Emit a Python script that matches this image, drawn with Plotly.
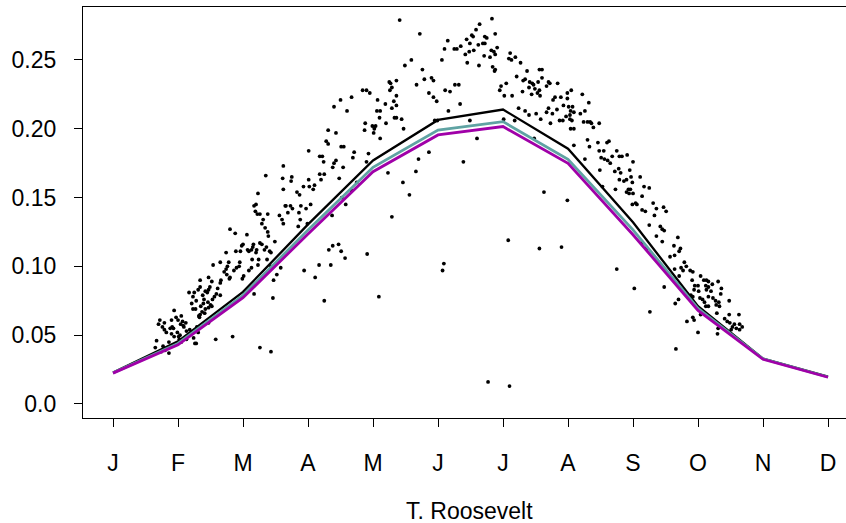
import plotly.graph_objects as go

months = ["J", "F", "M", "A", "M", "J", "J", "A", "S", "O", "N", "D"]
month_pos = list(range(1, 13))
y_ticks = [0.0, 0.05, 0.10, 0.15, 0.20, 0.25]
y_tick_text = ["0.0", "0.05", "0.10", "0.15", "0.20", "0.25"]

line_black = [0.0228, 0.0455, 0.0815, 0.1305, 0.1770, 0.2064, 0.2140, 0.1855, 0.1320, 0.0710, 0.0330, 0.0198]
line_teal = [0.0226, 0.0440, 0.0790, 0.1265, 0.1720, 0.1991, 0.2052, 0.1778, 0.1265, 0.0695, 0.0328, 0.0196]
line_magenta = [0.0224, 0.0430, 0.0772, 0.1235, 0.1688, 0.1955, 0.2016, 0.1749, 0.1230, 0.0680, 0.0325, 0.0194]

# daily observations: (month position, value)
daily_obs = [
    (2.80,0.127),(2.88,0.124),(3.06,0.123),(3.00,0.116),(2.98,0.115),(3.09,0.111),(3.07,0.112),(2.74,0.110),(2.89,0.111),(2.96,0.111),
    (2.54,0.101),(2.65,0.103),(2.78,0.103),(2.76,0.100),(2.74,0.098),(2.95,0.103),(2.71,0.096),(2.75,0.094),(2.80,0.092),(2.79,0.091),
    (2.86,0.097),(2.90,0.099),(2.94,0.100),(3.09,0.097),(2.34,0.090),(2.47,0.092),(2.66,0.090),(2.65,0.088),(2.52,0.089),(2.49,0.085),
    (2.61,0.084),(3.01,0.093),(2.99,0.091),(2.34,0.085),(2.31,0.083),(2.42,0.082),(2.47,0.083),(2.45,0.081),(2.59,0.080),(2.65,0.079),
    (2.56,0.078),(2.53,0.076),(2.46,0.074),(2.17,0.081),(2.25,0.081),(2.23,0.078),(2.28,0.075),(2.21,0.073),(2.38,0.079),(2.40,0.076),
    (2.39,0.073),(2.35,0.071),(2.27,0.069),(2.23,0.069),(2.50,0.072),(2.42,0.069),(2.52,0.071),(2.47,0.070),(1.94,0.068),(2.05,0.064),
    (2.00,0.061),(1.97,0.063),(1.90,0.061),(2.07,0.060),(2.04,0.058),(2.12,0.059),(2.08,0.057),(2.18,0.054),(2.13,0.053),(2.09,0.056),
    (1.72,0.061),(1.70,0.058),(1.79,0.059),(1.76,0.056),(1.79,0.054),(1.82,0.052),(1.88,0.055),(1.91,0.056),(1.93,0.055),(1.90,0.051),
    (1.94,0.049),(1.99,0.052),(2.01,0.049),(2.03,0.050),(2.34,0.065),(2.37,0.067),(2.32,0.064),(2.41,0.066),(2.33,0.063),(2.29,0.056),
    (2.31,0.052),(2.28,0.054),(1.67,0.046),(1.65,0.041),(1.77,0.042),(1.80,0.039),(1.86,0.045),(1.86,0.037),(1.74,0.038),(2.02,0.047),
    (2.05,0.045),(2.24,0.048),(2.13,0.047),(2.28,0.044),(2.26,0.044),(2.58,0.047),(2.84,0.049),(2.47,0.059),(2.18,0.050),
    (4.50,0.221),(4.40,0.216),(4.60,0.213),(4.31,0.199),(4.43,0.197),(4.28,0.191),(4.31,0.189),(4.01,0.184),(4.18,0.180),(4.22,0.180),
    (4.51,0.187),(4.55,0.187),(4.24,0.176),(4.43,0.177),(4.40,0.175),(4.38,0.172),(4.54,0.172),(3.62,0.173),(3.35,0.166),(3.61,0.164),
    (3.75,0.165),(3.74,0.162),(4.18,0.167),(4.25,0.167),(4.20,0.163),(4.48,0.164),(3.62,0.156),(3.23,0.153),(3.83,0.154),(3.87,0.152),
    (4.01,0.163),(3.93,0.158),(4.02,0.158),(4.10,0.159),(4.08,0.156),(3.17,0.144),(3.20,0.145),(3.19,0.140),(3.22,0.138),(3.26,0.138),
    (3.38,0.138),(3.65,0.144),(3.66,0.144),(3.73,0.144),(3.76,0.142),(3.89,0.144),(3.97,0.142),(4.04,0.145),(3.86,0.139),(3.69,0.139),
    (3.56,0.137),(3.60,0.134),(3.62,0.131),(3.88,0.134),(3.85,0.129),(3.99,0.131),(3.31,0.134),(3.29,0.131),(3.34,0.128),(3.38,0.125),
    (3.39,0.122),(3.49,0.118),(4.52,0.150),(4.58,0.145),(4.37,0.137),(3.16,0.116),(3.26,0.117),(3.29,0.116),(3.15,0.114),(3.13,0.112),
    (3.21,0.112),(3.33,0.112),(3.36,0.114),(3.41,0.111),(3.43,0.110),(3.20,0.110),(3.24,0.105),(3.14,0.105),(3.37,0.105),(3.23,0.101),
    (3.13,0.099),(3.43,0.100),(3.58,0.099),(4.32,0.112),(4.38,0.115),(4.47,0.116),(4.51,0.111),(4.57,0.106),(4.35,0.101),(4.17,0.101),
    (3.94,0.097),(4.11,0.092),(3.52,0.094),(3.47,0.090),(3.17,0.080),(3.46,0.077),(4.25,0.075),(3.26,0.041),(3.43,0.038),
    (5.41,0.279),(5.72,0.269),(6.15,0.264),(6.10,0.258),(6.06,0.250),(5.59,0.250),(5.49,0.246),(5.76,0.243),(5.36,0.235),(5.25,0.234),
    (5.27,0.233),(5.29,0.230),(5.26,0.228),(5.79,0.236),(5.90,0.237),(5.93,0.235),(5.67,0.232),(4.67,0.223),(4.84,0.228),(4.90,0.228),
    (4.95,0.226),(5.36,0.224),(5.07,0.221),(5.32,0.220),(5.36,0.217),(5.29,0.215),(5.19,0.218),(5.86,0.226),(5.93,0.223),(5.98,0.220),
    (6.11,0.228),(6.16,0.213),(5.06,0.213),(5.11,0.213),(5.10,0.208),(5.33,0.208),(5.36,0.208),(5.44,0.207),(5.20,0.204),(5.47,0.200),
    (4.88,0.204),(4.87,0.199),(4.99,0.202),(5.04,0.202),(5.02,0.200),(5.01,0.197),(5.11,0.193),(5.95,0.206),(5.99,0.206),(4.71,0.183),
    (4.69,0.179),(4.93,0.182),(4.90,0.176),(4.75,0.161),(4.67,0.155),(5.86,0.183),(5.70,0.178),(5.66,0.169),(5.23,0.168),(5.46,0.161),
    (5.56,0.152),(5.29,0.136),(4.91,0.109),(6.09,0.102),(6.07,0.097),(5.09,0.078),
    (6.83,0.280),(6.64,0.276),(6.585,0.272),(6.88,0.269),(6.52,0.268),(6.54,0.267),(6.72,0.267),(6.75,0.266),(6.44,0.265),(6.49,0.262),
    (6.62,0.261),(6.69,0.262),(6.72,0.262),(6.91,0.259),(6.82,0.257),(6.86,0.256),(6.88,0.254),(6.25,0.258),(6.29,0.258),(6.35,0.260),
    (6.55,0.257),(6.48,0.256),(6.42,0.254),(6.71,0.253),(6.80,0.252),(6.45,0.248),(6.63,0.246),(6.84,0.245),(6.88,0.243),(6.87,0.242),
    (7.11,0.255),(7.09,0.251),(7.13,0.250),(7.19,0.252),(7.27,0.248),(7.37,0.242),(7.56,0.243),(7.60,0.243),(7.21,0.238),(7.31,0.235),
    (7.34,0.236),(7.41,0.234),(7.45,0.233),(7.47,0.232),(7.54,0.234),(7.60,0.237),(7.67,0.231),(7.70,0.234),(6.97,0.231),(7.05,0.233),
    (6.95,0.228),(7.02,0.224),(7.14,0.224),(7.30,0.227),(7.40,0.230),(7.44,0.225),(7.49,0.229),(7.53,0.226),(7.56,0.228),(7.57,0.224),
    (6.26,0.232),(6.32,0.232),(6.185,0.227),(6.34,0.218),(7.24,0.215),(7.34,0.213),(7.40,0.210),(7.51,0.211),(7.58,0.207),(7.67,0.212),
    (7.70,0.215),(6.49,0.206),(7.01,0.207),(7.18,0.206),(6.60,0.193),(7.48,0.193),(6.39,0.176),(7.63,0.154),(7.08,0.119),(7.56,0.113),
    (6.77,0.016),(7.10,0.013),
    (7.72,0.233),(7.84,0.233),(7.99,0.226),(8.05,0.228),(7.99,0.222),(8.22,0.225),(7.77,0.221),(7.80,0.223),(7.89,0.223),(7.93,0.217),
    (8.01,0.216),(8.04,0.213),(8.07,0.216),(8.03,0.210),(8.09,0.212),(7.83,0.214),(7.76,0.211),(7.97,0.209),(7.87,0.206),(7.92,0.206),
    (8.03,0.207),(8.06,0.206),(8.26,0.213),(8.32,0.219),(8.19,0.211),(8.24,0.205),(8.30,0.205),(8.34,0.205),(8.36,0.204),(8.39,0.201),
    (8.48,0.204),(7.73,0.204),(8.04,0.200),(8.09,0.200),(8.30,0.192),(8.33,0.187),(8.46,0.190),(8.60,0.190),(8.63,0.191),(8.09,0.188),
    (8.48,0.184),(8.55,0.184),(8.75,0.184),(8.68,0.180),(8.79,0.180),(8.83,0.180),(8.91,0.181),(8.51,0.179),(8.56,0.178),(8.61,0.177),
    (8.65,0.175),(8.26,0.178),(9.00,0.176),(8.49,0.170),(8.72,0.169),(8.78,0.171),(8.81,0.168),(8.95,0.170),(8.97,0.165),(9.11,0.165),
    (8.79,0.163),(8.86,0.162),(8.90,0.163),(8.99,0.161),(8.73,0.156),(8.93,0.156),(8.96,0.156),(8.90,0.154),(8.94,0.153),(9.00,0.153),
    (8.53,0.158),(9.17,0.158),(9.25,0.157),(9.14,0.151),(9.04,0.146),(8.99,0.145),(9.06,0.145),(9.14,0.141),(9.19,0.140),(9.25,0.130),
    (9.14,0.117),(9.21,0.113),(7.99,0.148),(7.90,0.114),(8.75,0.098),(9.02,0.084),
    (9.31,0.146),(9.47,0.143),(9.51,0.140),(9.36,0.142),(9.33,0.137),(9.42,0.129),(9.45,0.127),(9.48,0.126),(9.36,0.122),(9.45,0.118),
    (9.69,0.121),(9.63,0.115),(9.73,0.113),(9.71,0.111),(9.57,0.107),(9.64,0.108),(9.79,0.103),(9.82,0.100),(9.74,0.099),(9.77,0.097),
    (9.64,0.098),(9.88,0.097),(9.92,0.096),(9.71,0.093),(10.04,0.093),(9.91,0.090),(10.09,0.090),(10.13,0.090),(10.16,0.089),(10.31,0.089),
    (9.95,0.086),(10.00,0.086),(10.12,0.086),(10.16,0.085),(10.22,0.087),(9.94,0.083),(10.01,0.082),(10.13,0.083),(10.20,0.082),(10.36,0.084),
    (10.35,0.080),(9.77,0.082),(9.83,0.080),(9.89,0.079),(9.92,0.078),(10.03,0.077),(10.07,0.076),(10.16,0.078),(10.23,0.077),(10.27,0.075),
    (10.32,0.074),(10.48,0.075),(10.10,0.074),(10.12,0.071),(10.16,0.071),(10.28,0.072),(10.33,0.071),(9.70,0.076),(9.65,0.073),(10.04,0.065),
    (10.29,0.066),(10.48,0.065),(10.63,0.065),(10.41,0.062),(10.45,0.060),(10.49,0.059),(10.56,0.058),(10.64,0.058),(10.53,0.056),(10.59,0.055),
    (10.68,0.056),(10.64,0.054),(10.51,0.054),(9.48,0.085),(9.26,0.067),(9.83,0.060),(9.92,0.063),(9.94,0.061),(10.00,0.052),(10.31,0.055),
    (10.30,0.051),(9.66,0.040),
]

obs_x = [p[0] for p in daily_obs]
obs_y = [p[1] for p in daily_obs]

FONT = "Liberation Sans, Arial, sans-serif"

fig = go.Figure()
fig.add_trace(go.Scatter(x=obs_x, y=obs_y, mode="markers",
                         marker=dict(color="black", size=3.8), showlegend=False, hoverinfo="skip"))
fig.add_trace(go.Scatter(x=month_pos, y=line_black, mode="lines",
                         line=dict(color="black", width=2.3), showlegend=False))
fig.add_trace(go.Scatter(x=month_pos, y=line_teal, mode="lines",
                         line=dict(color="#5FA3A3", width=2.8), showlegend=False))
fig.add_trace(go.Scatter(x=month_pos, y=line_magenta, mode="lines",
                         line=dict(color="#A000A8", width=2.8), showlegend=False))

fig.update_layout(
    width=846, height=523,
    margin=dict(l=83, r=0, t=7, b=105),
    paper_bgcolor="white", plot_bgcolor="white",
    font=dict(family=FONT, size=23, color="black"),
    xaxis=dict(range=[0.538, 12.277], tickmode="array", tickvals=month_pos, ticktext=months,
               ticks="outside", ticklen=8, tickwidth=1, tickcolor="black",
               showline=True, linecolor="black", linewidth=1.3, mirror=True,
               showgrid=False, zeroline=False, ticklabelstandoff=16),
    yaxis=dict(range=[-0.0102, 0.2885], tickmode="array", tickvals=y_ticks, ticktext=y_tick_text,
               ticks="outside", ticklen=8, tickwidth=1, tickcolor="black",
               showline=True, linecolor="black", linewidth=1.3, mirror=False,
               showgrid=False, zeroline=False, ticklabelstandoff=13),
    annotations=[dict(text="T. Roosevelt", xref="paper", yref="paper",
                      x=0.507, y=-0.226, xanchor="center", yanchor="middle",
                      showarrow=False, font=dict(family=FONT, size=23, color="black"))],
)

fig.write_html("out.html")
